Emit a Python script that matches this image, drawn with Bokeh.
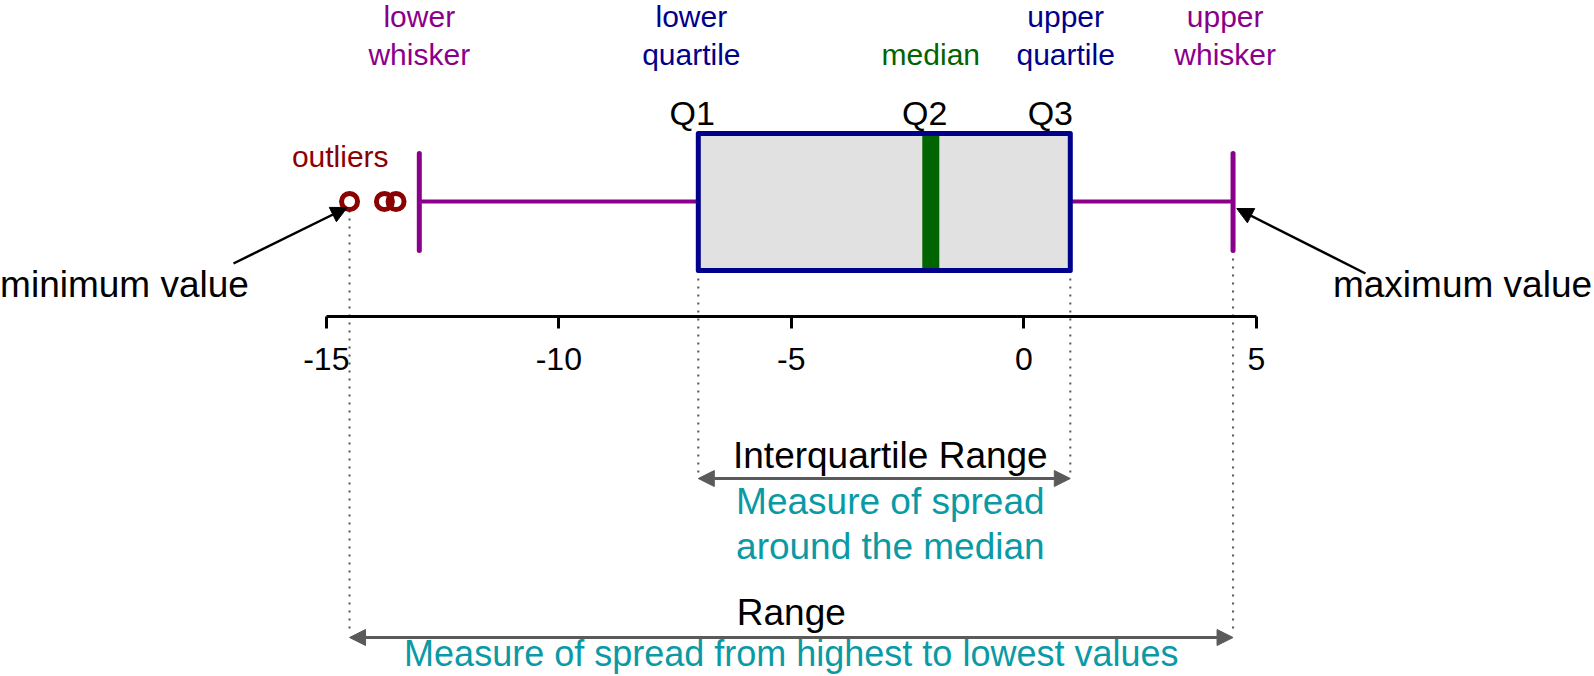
from bokeh.plotting import figure
from bokeh.models import Range1d, LinearAxis, FixedTicker, Arrow, NormalHead, ColumnDataSource
from bokeh.core.properties import value
from bokeh.embed import file_html
from bokeh.resources import INLINE

# ---- data ----
outliers = [-14.5, -13.75, -13.5]
lower_whisker = -13.0
q1 = -7.0
median = -2.0
q3 = 1.0
upper_whisker = 4.5
minimum = -14.5
maximum = 4.5
tick_values = [-15, -10, -5, 0, 5]
tick_labels = ["-15", "-10", "-5", "0", "5"]

# ---- layout (pixel scale) ----
W, H = 1594, 676
PX_PER_UNIT = 46.5
ZERO_PX = 1023.3
def dx(px):
    return (px - ZERO_PX) / PX_PER_UNIT

FONT = value("Liberation Sans")
PURPLE = "#8B008B"
NAVY = "#00008B"
GREEN = "#006400"
DARKRED = "#8B0000"
TEAL = "#0A9AA5"
GRAY = "#5A5A5A"

p = figure(width=W, height=H, output_backend="svg", toolbar_location=None,
           x_range=Range1d(dx(0), dx(W)), y_range=Range1d(H, 0),
           x_axis_location=None, y_axis_location=None,
           min_border=0, min_border_left=0, min_border_right=0,
           min_border_top=0, min_border_bottom=0)
p.outline_line_color = None
p.grid.visible = False
p.background_fill_color = "white"
p.border_fill_color = "white"

# axis
ax = LinearAxis(fixed_location=316, ticker=FixedTicker(ticks=tick_values),
                bounds=(tick_values[0], tick_values[-1]))
ax.major_label_overrides = {v: l for v, l in zip(tick_values, tick_labels)}
ax.axis_line_width = 3
ax.axis_line_color = "black"
ax.major_tick_line_width = 3
ax.major_tick_out = 12
ax.major_tick_in = 0
ax.minor_tick_out = 0
ax.minor_tick_in = 0
ax.major_label_text_font = "Liberation Sans"
ax.major_label_text_font_size = "32px"
ax.major_label_text_color = "black"
ax.major_label_standoff = 19
p.add_layout(ax, "below")

# dotted guide lines
p.segment(x0=[q1, q3, minimum, maximum], y0=[270, 270, 210, 250],
          x1=[q1, q3, minimum, maximum], y1=[476, 476, 632, 632],
          line_color="#555555", line_width=2, line_dash="2 6")

# whiskers
p.segment(x0=[lower_whisker, q3], y0=[201, 201], x1=[q1, upper_whisker], y1=[201, 201],
          line_color=PURPLE, line_width=4)
p.segment(x0=[lower_whisker, upper_whisker], y0=[153, 153],
          x1=[lower_whisker, upper_whisker], y1=[250, 250],
          line_color=PURPLE, line_width=5, line_cap="round")

# box
p.quad(left=[q1], right=[q3], top=[133], bottom=[270], fill_color="#E1E1E1", line_color=None)
p.segment(x0=[median], y0=[135], x1=[median], y1=[268], line_color=GREEN, line_width=17)
p.quad(left=[q1], right=[q3], top=[133], bottom=[270], fill_alpha=0,
       line_color=NAVY, line_width=5, line_join="round")

# outliers
p.scatter(x=outliers, y=[201] * len(outliers), marker="circle", size=16,
          fill_color="white", fill_alpha=0, line_color=DARKRED, line_width=5)

# arrows
p.add_layout(Arrow(x_start=dx(233), y_start=263, x_end=minimum - 0.05, y_end=207,
                   line_color="black", line_width=2.5,
                   end=NormalHead(size=16, fill_color="black", line_color="black")))
p.add_layout(Arrow(x_start=dx(1365), y_start=273, x_end=maximum + 0.08, y_end=208,
                   line_color="black", line_width=2.5,
                   end=NormalHead(size=16, fill_color="black", line_color="black")))
p.add_layout(Arrow(x_start=q1, y_start=478, x_end=q3, y_end=478,
                   line_color=GRAY, line_width=3,
                   start=NormalHead(size=16, fill_color=GRAY, line_color=GRAY),
                   end=NormalHead(size=16, fill_color=GRAY, line_color=GRAY)))
p.add_layout(Arrow(x_start=minimum, y_start=637, x_end=maximum, y_end=637,
                   line_color=GRAY, line_width=3,
                   start=NormalHead(size=16, fill_color=GRAY, line_color=GRAY),
                   end=NormalHead(size=16, fill_color=GRAY, line_color=GRAY)))

def txt(xs, ys, texts, color, size, align="center"):
    # ys are the wanted baselines; correct for the renderer's baseline placement
    shift = 0.33 * size
    src = ColumnDataSource(dict(x=xs, y=[y - shift for y in ys], t=texts))
    p.text(x="x", y="y", text="t", source=src, text_color=color, text_font=FONT,
           text_font_size=f"{size}px", text_align=align, text_baseline="alphabetic")

# top labels
txt([lower_whisker, lower_whisker], [26, 64], ["lower", "whisker"], PURPLE, 30)
txt([q1 - 0.15, q1 - 0.15], [26, 64], ["lower", "quartile"], NAVY, 30)
txt([median], [64], ["median"], GREEN, 30)
txt([q3 - 0.1, q3 - 0.1], [26, 64], ["upper", "quartile"], NAVY, 30)
txt([upper_whisker - 0.17, upper_whisker - 0.17], [26, 64], ["upper", "whisker"], PURPLE, 30)
txt([q1 - 0.13, median - 0.13, q3 - 0.43], [124, 124, 124], ["Q1", "Q2", "Q3"], "black", 34)
txt([outliers[0] - 0.2], [166], ["outliers"], DARKRED, 30)
txt([dx(124), dx(1462)], [296, 296], ["minimum value", "maximum value"], "black", 37)

# bottom labels
iqr_c = (q1 + q3) / 2 + 0.13
txt([iqr_c], [467], ["Interquartile Range"], "black", 37)
txt([iqr_c, iqr_c], [513, 558], ["Measure of spread", "around the median"], TEAL, 37)
rng_c = (minimum + maximum) / 2
txt([rng_c], [624], ["Range"], "black", 37)
txt([rng_c], [665], ["Measure of spread from highest to lowest values"], TEAL, 36)

open("out.html", "w").write(file_html(p, INLINE))
